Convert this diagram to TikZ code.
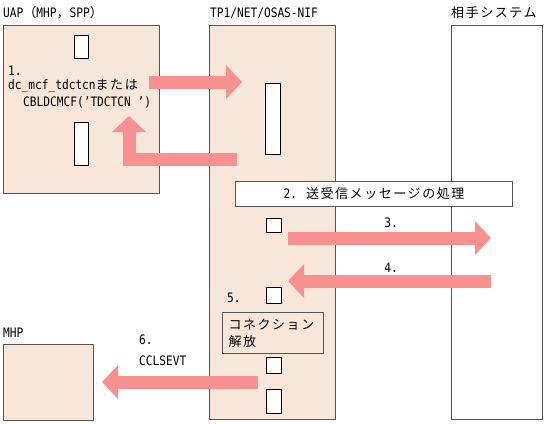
\documentclass[tikz,border=0pt]{standalone}
\usepackage{fontspec}
\setmainfont[FakeStretch = 0.86]{DejaVu Sans Mono}
\newfontfamily\jp[LetterSpace = 12]{Noto Sans CJK JP}
\usetikzlibrary{arrows.meta}
\definecolor{peach}{HTML}{F8E6D8}
\definecolor{salmon}{HTML}{F99191}
\definecolor{edge}{HTML}{555555}
\begin{document}
\begin{tikzpicture}[
  x = 1pt, y = -1pt,
  panel/.style = {
    shape = rectangle,
    draw = edge,
    line width = 1pt,
    fill = peach,
    anchor = north west,
    inner sep = 0pt,
  },
  slot/.style = {
    shape = rectangle,
    draw = black,
    line width = 0.8pt,
    fill = white,
    anchor = north west,
    inner sep = 0pt,
  },
  label/.style = {
    anchor = west,
    inner sep = 0pt,
    font = \fontsize{13}{15}\selectfont,
  },
  flow/.style = {
    draw = salmon,
    line width = 13pt,
    line join = miter,
    -{Triangle[width = 33pt, length = 16pt]},
  }
]
  \useasboundingbox (0, 0) rectangle (545, 423);

  % panels
  \node[panel, minimum width = 156pt, minimum height = 168pt] (uap) at (3, 25) {};
  \node[panel, minimum width = 126pt, minimum height = 394pt] (tp) at (209, 25) {};
  \node[panel, fill = white, minimum width = 91pt, minimum height = 394pt] (peer) at (451, 25) {};
  \node[panel, minimum width = 90pt, minimum height = 76pt] (mhp) at (3, 344) {};

  \node[label] (uaplbl) at (3, 13) {UAP{\jp（}MHP{\jp，}SPP{\jp）}};
  \node[label] (tplbl) at (210, 13) {TP1/NET/OSAS-NIF};
  \node[label] (peerlbl) at (451, 13) {\jp 相手システム};
  \node[label] (mhplbl) at (3, 333) {MHP};

  % slots
  \node[slot, minimum width = 14pt, minimum height = 23pt] (s1) at (74, 35) {};
  \node[slot, minimum width = 14pt, minimum height = 43pt] (s2) at (74, 122) {};
  \node[slot, minimum width = 15pt, minimum height = 71pt] (s3) at (265, 83) {};
  \node[slot, minimum width = 15pt, minimum height = 14pt] (s4) at (266, 218) {};
  \node[slot, minimum width = 15pt, minimum height = 16pt] (s5) at (266, 287) {};
  \node[slot, minimum width = 15pt, minimum height = 16pt] (s6) at (266, 357) {};
  \node[slot, minimum width = 15pt, minimum height = 24pt] (s7) at (266, 389) {};

  \node[panel, fill = white, minimum width = 277pt, minimum height = 25pt,
    font = \fontsize{13}{15}\selectfont] (proc) at (235, 181)
    {2. {\jp 送受信メッセージの処理}};
  \node[panel, minimum width = 101pt, minimum height = 41pt, align = left,
    text width = 89pt, inner xsep = 6pt, font = \fontsize{13}{17}\selectfont]
    (release) at (222, 312) {\jp コネクション\\解放};

  % labels
  \node[label] (l1) at (8, 71) {1.};
  \node[label] (l1a) at (8, 86) {dc\_mcf\_tdctcn{\jp または}};
  \node[label] (l1b) at (23, 102) {CBLDCMCF('TDCTCN ')};
  \node[label, anchor = center] (l3) at (391, 223) {3.};
  \node[label, anchor = center] (l4) at (391, 268) {4.};
  \node[label] (l5) at (227, 298) {5.};
  \node[label] (l6) at (139, 340) {6.};
  \node[label] (l6a) at (139, 361) {CCLSEVT};

  % flows
  \coordinate (a1s) at (149, 82);
  \coordinate (a1e) at (242, 82);
  \coordinate (a2s) at (237, 159);
  \coordinate (a2e) at (129, 116);
  \coordinate (a3s) at (288, 238);
  \coordinate (a3e) at (491, 238);
  \coordinate (a4s) at (491, 281);
  \coordinate (a4e) at (288, 281);
  \coordinate (a6s) at (258, 382);
  \coordinate (a6e) at (102, 382);

  \draw[flow] (a1s) -- (a1e);
  \draw[flow] (a2s) -| (a2e);
  \draw[flow] (a3s) -- (a3e);
  \draw[flow] (a4s) -- (a4e);
  \draw[flow] (a6s) -- (a6e);
\end{tikzpicture}
\end{document}
